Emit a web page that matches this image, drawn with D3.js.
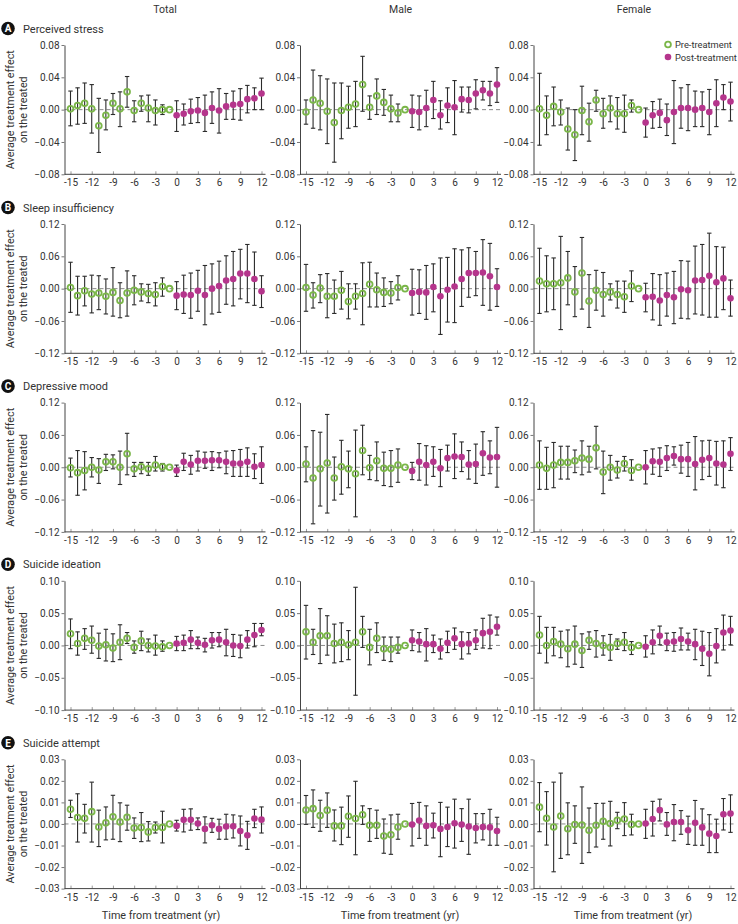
<!DOCTYPE html>
<html><head><meta charset="utf-8">
<script src="https://cdn.jsdelivr.net/npm/d3@7"></script>
<style>body{margin:0;background:#fff}text{font-family:Roboto,"Noto Sans",sans-serif}</style>
</head><body><svg id="c" width="738" height="924"></svg>
<script>
const years = d3.range(-15, 13);
const xTicks = [-15,-12,-9,-6,-3,0,3,6,9,12];
const columnTitles = ["Total","Male","Female"];
const rowLetters = ["A","B","C","D","E"];
const rowTitles = ["Perceived stress","Sleep insufficiency","Depressive mood","Suicide ideation","Suicide attempt"];
const rowTicks = [
  [-0.08,-0.04,0,0.04,0.08],
  [-0.12,-0.06,0,0.06,0.12],
  [-0.12,-0.06,0,0.06,0.12],
  [-0.10,-0.05,0,0.05,0.10],
  [-0.03,-0.02,-0.01,0,0.01,0.02,0.03]
];
const legendLabels = ["Pre-treatment","Post-treatment"];

// A. Perceived stress
const stressTotalEst = [0.001,0.005,0.008,0.001,-0.020,-0.007,0.008,0.001,0.022,-0.001,0.008,0.002,-0.001,0.000,0,-0.007,-0.005,-0.002,-0.001,-0.004,0.002,-0.001,0.004,0.006,0.007,0.013,0.014,0.020];
const stressTotalLo  = [-0.020,-0.018,-0.017,-0.029,-0.053,-0.025,-0.006,-0.021,0.003,-0.015,-0.002,-0.015,-0.019,-0.006,0,-0.027,-0.019,-0.017,-0.016,-0.027,-0.017,-0.029,-0.012,-0.012,-0.013,-0.004,0.000,0.000];
const stressTotalHi  = [0.023,0.027,0.033,0.031,0.014,0.012,0.020,0.022,0.041,0.011,0.017,0.018,0.012,0.006,0,0.011,0.007,0.013,0.015,0.018,0.022,0.026,0.020,0.023,0.026,0.030,0.027,0.039];
const stressMaleEst = [-0.003,0.012,0.008,-0.002,-0.016,-0.001,0.003,0.007,0.031,0.003,0.017,0.009,0.001,-0.004,0,-0.002,-0.003,0.002,0.012,-0.007,0.005,0.003,0.013,0.012,0.020,0.024,0.020,0.031];
const stressMaleLo  = [-0.018,-0.023,-0.025,-0.042,-0.065,-0.036,-0.023,-0.021,-0.002,-0.012,-0.006,-0.007,-0.015,-0.015,0,-0.022,-0.025,-0.021,-0.011,-0.024,-0.016,-0.031,-0.003,-0.004,0.001,0.012,0.005,0.009];
const stressMaleHi  = [0.012,0.049,0.042,0.038,0.033,0.033,0.029,0.035,0.066,0.017,0.038,0.025,0.018,0.007,0,0.018,0.017,0.024,0.035,0.011,0.027,0.036,0.028,0.028,0.037,0.035,0.035,0.052];
const stressFemaleEst = [0.001,-0.007,0.004,-0.003,-0.024,-0.031,-0.001,-0.015,0.012,-0.005,0.002,-0.005,-0.005,0.005,0,-0.016,-0.007,-0.004,-0.013,-0.003,0.002,0.002,0.000,0.002,-0.003,0.008,0.015,0.010];
const stressFemaleLo  = [-0.044,-0.031,-0.020,-0.019,-0.050,-0.063,-0.031,-0.039,-0.002,-0.023,-0.015,-0.024,-0.028,-0.003,0,-0.034,-0.023,-0.022,-0.032,-0.042,-0.023,-0.026,-0.021,-0.021,-0.031,-0.021,0.000,-0.014];
const stressFemaleHi  = [0.045,0.017,0.028,0.012,0.002,0.000,0.029,0.008,0.024,0.014,0.017,0.015,0.018,0.012,0,0.002,0.010,0.013,0.007,0.036,0.027,0.031,0.023,0.022,0.025,0.037,0.031,0.034];

// B. Sleep insufficiency
const sleepTotalEst = [0.002,-0.013,-0.004,-0.010,-0.008,-0.014,-0.007,-0.022,-0.008,-0.003,-0.006,-0.009,-0.011,0.004,0,-0.013,-0.011,-0.012,-0.004,-0.012,0.000,0.005,0.015,0.018,0.028,0.028,0.018,-0.005];
const sleepTotalLo  = [-0.044,-0.049,-0.032,-0.045,-0.039,-0.047,-0.051,-0.054,-0.051,-0.030,-0.023,-0.026,-0.032,-0.014,0,-0.039,-0.046,-0.055,-0.042,-0.067,-0.047,-0.044,-0.029,-0.032,-0.019,-0.026,-0.031,-0.035];
const sleepTotalHi  = [0.049,0.023,0.023,0.025,0.024,0.018,0.039,0.011,0.033,0.024,0.009,0.008,0.011,0.020,0,0.013,0.025,0.029,0.034,0.043,0.046,0.051,0.061,0.069,0.073,0.082,0.068,0.024];
const sleepMaleEst = [0.002,-0.012,0.001,-0.014,-0.014,-0.003,-0.024,-0.014,-0.009,0.008,-0.002,-0.007,-0.008,0.002,0,-0.008,-0.006,-0.007,0.003,-0.014,-0.002,0.004,0.018,0.029,0.029,0.030,0.023,0.003];
const sleepMaleLo  = [-0.042,-0.036,-0.026,-0.054,-0.046,-0.038,-0.056,-0.038,-0.067,-0.034,-0.034,-0.033,-0.028,-0.021,0,-0.049,-0.046,-0.057,-0.043,-0.085,-0.062,-0.063,-0.033,-0.016,-0.013,-0.031,-0.040,-0.033];
const sleepMaleHi  = [0.045,0.011,0.026,0.028,0.016,0.032,0.009,0.009,0.048,0.049,0.029,0.020,0.013,0.024,0,0.036,0.035,0.043,0.046,0.057,0.058,0.074,0.072,0.076,0.069,0.091,0.084,0.037];
const sleepFemaleEst = [0.014,0.009,0.009,0.011,0.020,-0.006,0.029,-0.023,-0.003,-0.011,-0.006,-0.011,-0.015,0.005,0,-0.016,-0.015,-0.022,-0.012,-0.016,-0.001,-0.003,0.015,0.016,0.024,0.012,0.019,-0.018];
const sleepFemaleLo  = [-0.046,-0.043,-0.039,-0.076,-0.030,-0.052,-0.038,-0.072,-0.040,-0.051,-0.021,-0.036,-0.044,-0.024,0,-0.043,-0.058,-0.068,-0.051,-0.065,-0.055,-0.056,-0.047,-0.049,-0.053,-0.053,-0.039,-0.051];
const sleepFemaleHi  = [0.075,0.061,0.057,0.097,0.069,0.041,0.095,0.026,0.034,0.030,0.009,0.014,0.014,0.033,0,0.010,0.028,0.026,0.029,0.032,0.052,0.051,0.079,0.082,0.103,0.078,0.077,0.016];

// C. Depressive mood
const moodTotalEst = [-0.001,-0.010,-0.006,0.000,-0.005,0.010,0.010,0.000,0.025,-0.003,0.001,-0.003,0.004,0.001,0,-0.006,0.010,0.005,0.012,0.012,0.013,0.013,0.010,0.007,0.007,0.010,0.001,0.004];
const moodTotalLo  = [-0.018,-0.052,-0.042,-0.018,-0.030,-0.006,-0.003,-0.032,-0.014,-0.017,-0.012,-0.015,-0.007,-0.007,0,-0.017,-0.006,-0.013,-0.007,-0.002,-0.006,-0.001,-0.012,-0.017,-0.017,-0.017,-0.021,-0.030];
const moodTotalHi  = [0.017,0.031,0.029,0.018,0.016,0.024,0.023,0.030,0.063,0.009,0.009,0.009,0.020,0.007,0,0.004,0.026,0.022,0.030,0.028,0.029,0.027,0.030,0.031,0.033,0.036,0.025,0.038];
const moodMaleEst = [0.006,-0.020,-0.003,0.008,-0.020,0.001,-0.003,-0.012,0.031,-0.001,0.012,-0.002,-0.002,0.004,0,-0.007,0.010,0.004,0.010,-0.002,0.017,0.020,0.019,0.005,0.006,0.026,0.018,0.019];
const moodMaleLo  = [-0.027,-0.105,-0.072,-0.085,-0.061,-0.050,-0.038,-0.092,-0.014,-0.023,-0.025,-0.034,-0.036,-0.028,0,-0.023,-0.024,-0.033,-0.017,-0.036,-0.007,-0.021,-0.008,-0.022,-0.030,-0.015,-0.012,-0.037];
const moodMaleHi  = [0.038,0.068,0.065,0.098,0.019,0.050,0.030,0.069,0.078,0.022,0.047,0.028,0.031,0.034,0,0.009,0.044,0.040,0.038,0.033,0.041,0.062,0.047,0.031,0.043,0.066,0.049,0.074];
const moodFemaleEst = [0.004,-0.002,0.004,0.009,0.009,0.012,0.017,0.015,0.036,-0.009,0.000,-0.005,0.007,-0.006,0,0.000,0.011,0.010,0.017,0.021,0.015,0.015,0.006,0.014,0.017,0.007,0.005,0.025];
const moodFemaleLo  = [-0.041,-0.041,-0.038,-0.022,-0.022,-0.010,-0.014,-0.009,-0.003,-0.049,-0.024,-0.020,-0.007,-0.024,0,-0.031,-0.013,-0.017,-0.006,0.004,-0.011,-0.017,-0.042,-0.023,-0.017,-0.033,-0.038,-0.006];
const moodFemaleHi  = [0.049,0.037,0.046,0.039,0.039,0.032,0.049,0.039,0.076,0.030,0.022,0.011,0.020,0.014,0,0.031,0.034,0.036,0.040,0.038,0.041,0.046,0.057,0.049,0.050,0.048,0.049,0.055];

// D. Suicide ideation
const ideationTotalEst = [0.018,0.003,0.011,0.008,-0.001,0.001,-0.004,0.005,0.011,-0.003,0.007,0.000,-0.001,-0.002,0,0.003,0.004,0.009,0.004,0.001,0.008,0.009,0.005,0.000,-0.001,0.009,0.016,0.024];
const ideationTotalLo  = [-0.005,-0.015,-0.006,-0.012,-0.020,-0.024,-0.025,-0.022,0.003,-0.012,-0.008,-0.010,-0.015,-0.009,0,-0.008,-0.008,-0.005,-0.005,-0.010,-0.004,-0.002,-0.016,-0.017,-0.019,-0.004,-0.002,0.015];
const ideationTotalHi  = [0.041,0.021,0.026,0.030,0.019,0.025,0.018,0.032,0.020,0.007,0.022,0.010,0.016,0.007,0,0.014,0.016,0.023,0.013,0.011,0.020,0.020,0.025,0.017,0.016,0.023,0.034,0.034];
const ideationMaleEst = [0.021,0.005,0.015,0.015,0.003,0.005,0.001,0.005,0.021,-0.003,0.011,-0.005,-0.006,-0.003,0,0.008,0.006,0.002,0.002,-0.005,0.004,0.011,0.002,0.003,0.008,0.019,0.021,0.029];
const ideationMaleLo  = [-0.021,-0.014,-0.028,-0.015,-0.027,-0.025,-0.022,-0.077,-0.003,-0.030,-0.011,-0.023,-0.025,-0.012,0,-0.008,-0.010,-0.024,-0.011,-0.021,-0.011,-0.006,-0.021,-0.013,-0.006,-0.004,-0.005,0.016];
const ideationMaleHi  = [0.062,0.025,0.057,0.046,0.033,0.035,0.023,0.090,0.045,0.025,0.035,0.013,0.013,0.013,0,0.024,0.020,0.026,0.016,0.010,0.022,0.027,0.021,0.020,0.024,0.042,0.047,0.044];
const ideationFemaleEst = [0.016,0.000,0.006,0.002,-0.005,0.002,-0.008,0.008,0.003,0.000,-0.003,0.003,0.005,-0.003,0,-0.002,0.005,0.015,0.005,0.006,0.010,0.006,0.002,-0.005,-0.013,-0.001,0.020,0.023];
const ideationFemaleLo  = [-0.012,-0.027,-0.016,-0.019,-0.033,-0.029,-0.034,-0.006,-0.018,-0.015,-0.023,-0.006,-0.008,-0.014,0,-0.018,-0.013,0.001,-0.008,-0.009,-0.007,-0.007,-0.022,-0.031,-0.047,-0.027,-0.007,0.001];
const ideationFemaleHi  = [0.045,0.028,0.028,0.022,0.024,0.030,0.018,0.021,0.023,0.015,0.017,0.010,0.020,0.006,0,0.015,0.024,0.030,0.019,0.020,0.027,0.019,0.025,0.022,0.020,0.026,0.047,0.045];

// E. Suicide attempt
const attemptTotalEst = [0.0068,0.0030,0.0026,0.0057,-0.0014,0.0005,0.0033,0.0009,0.0031,-0.0019,-0.0017,-0.0037,-0.0017,-0.0016,0,-0.0009,0.0019,0.0019,0.0002,-0.0023,-0.0006,-0.0023,-0.0012,-0.0011,-0.0033,-0.0053,0.0025,0.0020];
const attemptTotalLo  = [0.0030,-0.0084,-0.0042,-0.0084,-0.0105,-0.0074,-0.0071,-0.0082,-0.0029,-0.0067,-0.0082,-0.0079,-0.0042,-0.0088,0,-0.0033,-0.0037,-0.0029,-0.0026,-0.0088,-0.0039,-0.0071,-0.0071,-0.0065,-0.0102,-0.0118,-0.0017,-0.0042];
const attemptTotalHi  = [0.0110,0.0140,0.0091,0.0194,0.0064,0.0079,0.0133,0.0098,0.0087,0.0028,0.0053,0.0011,0.0009,0.0059,0,0.0017,0.0068,0.0070,0.0028,0.0033,0.0026,0.0022,0.0045,0.0042,0.0037,0.0012,0.0068,0.0079];
const attemptMaleEst = [0.0065,0.0071,0.0039,0.0064,-0.0009,-0.0009,0.0036,0.0025,0.0043,-0.0006,-0.0006,-0.0056,-0.0050,-0.0014,0,-0.0003,0.0016,-0.0009,-0.0006,-0.0023,-0.0014,0.0003,-0.0003,-0.0012,-0.0019,-0.0014,-0.0016,-0.0033];
const attemptMaleLo  = [-0.0002,-0.0016,-0.0034,-0.0016,-0.0079,-0.0096,-0.0062,-0.0143,-0.0002,-0.0081,-0.0067,-0.0136,-0.0141,-0.0071,0,-0.0102,-0.0067,-0.0099,-0.0065,-0.0152,-0.0105,-0.0112,-0.0081,-0.0141,-0.0088,-0.0074,-0.0099,-0.0099];
const attemptMaleHi  = [0.0132,0.0158,0.0110,0.0144,0.0065,0.0078,0.0130,0.0198,0.0084,0.0071,0.0064,0.0023,0.0042,0.0045,0,0.0095,0.0100,0.0084,0.0050,0.0100,0.0078,0.0115,0.0071,0.0115,0.0048,0.0048,0.0068,0.0031];
const attemptFemaleEst = [0.0078,0.0026,-0.0014,0.0037,-0.0022,-0.0003,-0.0005,-0.0029,-0.0006,0.0012,0.0002,0.0017,0.0023,-0.0002,0,0.0002,0.0023,0.0064,-0.0002,0.0009,0.0009,-0.0029,0.0005,-0.0016,-0.0045,-0.0056,0.0045,0.0048];
const attemptFemaleLo  = [-0.0036,-0.0098,-0.0222,-0.0160,-0.0143,-0.0090,-0.0183,-0.0133,-0.0107,-0.0071,-0.0102,-0.0022,-0.0054,-0.0051,0,-0.0067,-0.0056,0.0014,-0.0053,-0.0078,-0.0048,-0.0095,-0.0099,-0.0099,-0.0133,-0.0133,-0.0028,-0.0039];
const attemptFemaleHi  = [0.0192,0.0150,0.0194,0.0236,0.0098,0.0084,0.0172,0.0074,0.0095,0.0096,0.0105,0.0054,0.0099,0.0045,0,0.0068,0.0105,0.0115,0.0053,0.0090,0.0062,0.0036,0.0109,0.0070,0.0043,0.0022,0.0118,0.0135];

const panelData = [
  [[stressTotalEst,stressTotalLo,stressTotalHi],[stressMaleEst,stressMaleLo,stressMaleHi],[stressFemaleEst,stressFemaleLo,stressFemaleHi]],
  [[sleepTotalEst,sleepTotalLo,sleepTotalHi],[sleepMaleEst,sleepMaleLo,sleepMaleHi],[sleepFemaleEst,sleepFemaleLo,sleepFemaleHi]],
  [[moodTotalEst,moodTotalLo,moodTotalHi],[moodMaleEst,moodMaleLo,moodMaleHi],[moodFemaleEst,moodFemaleLo,moodFemaleHi]],
  [[ideationTotalEst,ideationTotalLo,ideationTotalHi],[ideationMaleEst,ideationMaleLo,ideationMaleHi],[ideationFemaleEst,ideationFemaleLo,ideationFemaleHi]],
  [[attemptTotalEst,attemptTotalLo,attemptTotalHi],[attemptMaleEst,attemptMaleLo,attemptMaleHi],[attemptFemaleEst,attemptFemaleLo,attemptFemaleHi]]
];

// layout
const colAxisX = [64.5, 300, 533.5];
const colLabelX = [161, 400, 633];
const rowTop = [45, 224, 402.6, 580.8, 759.3];
const plotH = 129.3;
const GREEN = "#7ab648", MAGENTA = "#b5358c", BAR = "#2b2b2b";

const svg = d3.select("#c");

// column titles
columnTitles.forEach((t,i)=>{
  svg.append("text").attr("x",(colAxisX[i]+colAxisX[i]+201)/2).attr("y",13)
    .attr("text-anchor","middle").attr("font-size",10.5).attr("fill","#333").text(t);
});

rowTitles.forEach((title,r)=>{
  const top = rowTop[r];
  // badge
  const by = top - 16.5;
  svg.append("circle").attr("cx",8).attr("cy",by).attr("r",6.8).attr("fill","#111");
  svg.append("text").attr("x",8).attr("y",by+3.7).attr("text-anchor","middle")
    .attr("font-size",10).attr("font-weight","bold").attr("fill","#fff").text(rowLetters[r]);
  svg.append("text").attr("x",23).attr("y",by+4).attr("font-size",11).attr("fill","#333").text(title);

  // y label
  const cy = top + plotH/2;
  const yl = svg.append("text").attr("transform",`translate(14,${cy}) rotate(-90)`)
    .attr("text-anchor","middle").attr("font-size",10.8).attr("fill","#333");
  yl.append("tspan").attr("x",0).attr("dy",0).text("Average treatment effect");
  yl.append("tspan").attr("x",0).attr("dy",12.5).text("on the treated");

  const ticks = rowTicks[r];
  for (let c=0;c<3;c++){
    const ax = colAxisX[c];
    const x = d3.scaleLinear().domain([-15,12]).range([ax+6, ax+197]);
    const y = d3.scaleLinear().domain([ticks[0], ticks[ticks.length-1]]).range([top+plotH, top]);
    const g = svg.append("g");

    // zero dashed line
    g.append("line").attr("x1",ax).attr("x2",ax+201).attr("y1",y(0)).attr("y2",y(0))
      .attr("stroke","#8a8a8a").attr("stroke-width",1).attr("stroke-dasharray","4,3");

    // y axis
    const yAxis = d3.axisLeft(y).tickValues(ticks).tickSizeInner(3).tickSizeOuter(0).tickPadding(2)
      .tickFormat(d3.format(".2f"));
    const ya = g.append("g").attr("transform",`translate(${ax},0)`).call(yAxis);
    ya.select(".domain").attr("stroke","#444").attr("stroke-width",1);
    ya.selectAll(".tick line").attr("stroke","#777");
    ya.selectAll("text").attr("font-size",10).attr("fill","#333").attr("font-family","Roboto");

    // x axis
    const xAxis = d3.axisBottom(x).tickValues(xTicks).tickSizeInner(-3).tickSizeOuter(0).tickPadding(5)
      .tickFormat(d => String(d));
    const xa = g.append("g").attr("transform",`translate(0,${top+plotH})`).call(xAxis);
    xa.select(".domain").remove();
    xa.selectAll(".tick line").attr("stroke","#999");
    xa.selectAll("text").attr("font-size",10).attr("fill","#333").attr("font-family","Roboto");
    g.append("line").attr("x1",ax).attr("x2",ax+201).attr("y1",top+plotH).attr("y2",top+plotH)
      .attr("stroke","#444").attr("stroke-width",1);

    // data
    const [est, lo, hi] = panelData[r][c];
    const pts = years.map((yr,i)=>({yr, est:est[i], lo:lo[i], hi:hi[i]}));
    const bars = pts.filter(d=>d.hi !== d.lo);
    g.selectAll(".eb").data(bars).join("line")
      .attr("x1",d=>x(d.yr)).attr("x2",d=>x(d.yr)).attr("y1",d=>y(d.lo)).attr("y2",d=>y(d.hi))
      .attr("stroke",BAR).attr("stroke-width",1.1);
    ["lo","hi"].forEach(k=>{
      g.selectAll(".cap"+k).data(bars).join("line")
        .attr("x1",d=>x(d.yr)-2.2).attr("x2",d=>x(d.yr)+2.2).attr("y1",d=>y(d[k])).attr("y2",d=>y(d[k]))
        .attr("stroke",BAR).attr("stroke-width",1.1);
    });
    g.selectAll(".pre").data(pts.filter(d=>d.yr<0)).join("circle")
      .attr("cx",d=>x(d.yr)).attr("cy",d=>y(d.est)).attr("r",2.9)
      .attr("fill","none").attr("stroke",GREEN).attr("stroke-width",1.8);
    g.selectAll(".post").data(pts.filter(d=>d.yr>=0)).join("circle")
      .attr("cx",d=>x(d.yr)).attr("cy",d=>y(d.est)).attr("r",3.3)
      .attr("fill",MAGENTA);

    if (r===4){
      svg.append("text").attr("x",colLabelX[c]).attr("y",919).attr("text-anchor","middle")
        .attr("font-size",10.8).attr("fill","#333").text("Time from treatment (yr)");
    }
  }
});

// legend
const lg = svg.append("g");
lg.append("circle").attr("cx",668).attr("cy",44.5).attr("r",2.9).attr("fill","none").attr("stroke",GREEN).attr("stroke-width",1.8);
lg.append("text").attr("x",675).attr("y",48).attr("font-size",9.3).attr("fill","#333").text(legendLabels[0]);
lg.append("circle").attr("cx",668).attr("cy",57).attr("r",3.3).attr("fill",MAGENTA);
lg.append("text").attr("x",675).attr("y",60.5).attr("font-size",9.3).attr("fill","#333").text(legendLabels[1]);
</script>
</body></html>
